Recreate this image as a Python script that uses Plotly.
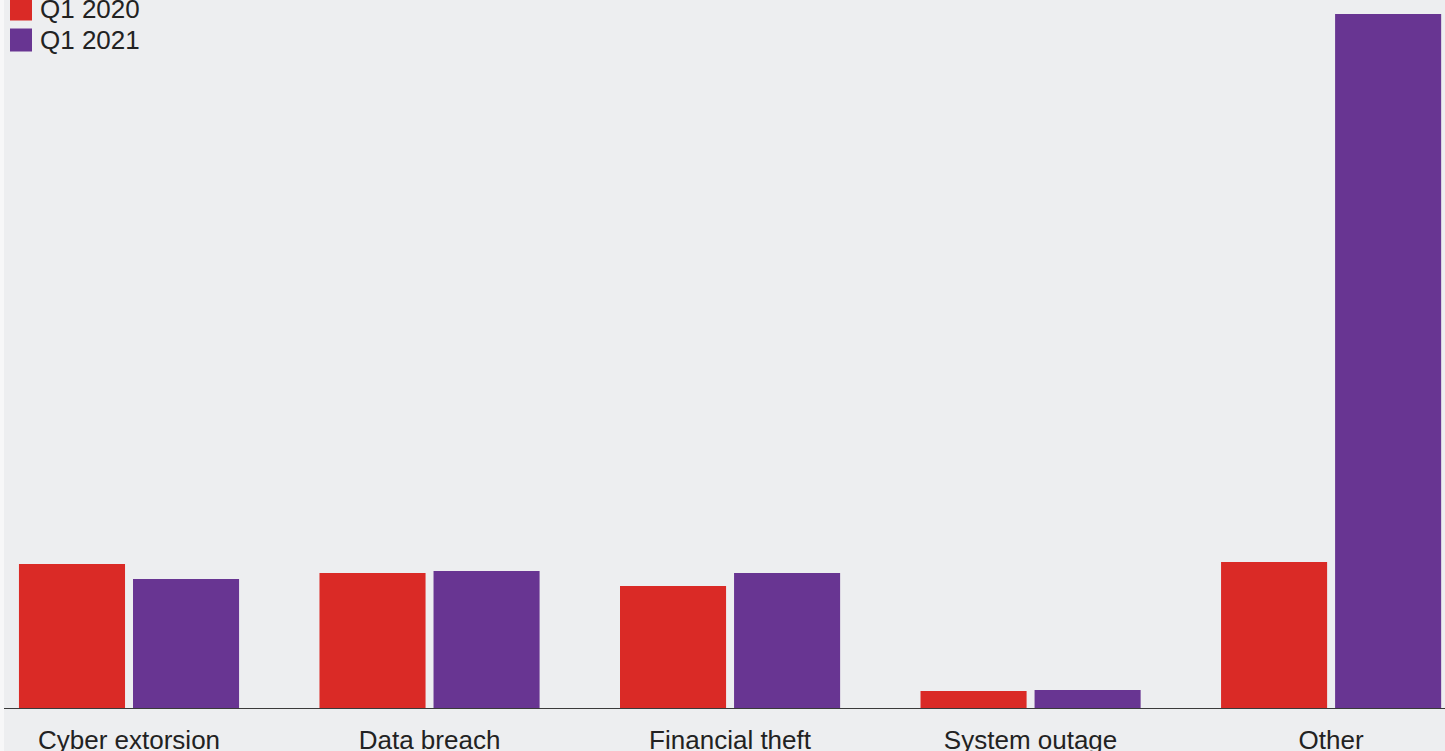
import plotly.graph_objects as go

categories = ["Cyber extorsion", "Data breach", "Financial theft", "System outage", "Other"]
series_names = ["Q1 2020", "Q1 2021"]
q1_2020 = [144, 135, 122, 17, 146]
q1_2021 = [129, 137, 135, 18, 694]
colors = ["#da2a26", "#683592"]

BG = "#edeef0"

fig = go.Figure()
for name, vals, col in zip(series_names, [q1_2020, q1_2021], colors):
    fig.add_trace(go.Bar(x=categories, y=vals, name=name, marker_color=col,
                         marker_line_width=0, showlegend=False))

# custom legend (large square swatches)
shapes = [dict(type="rect", xref="paper", yref="paper", x0=-0.1, x1=0, y0=-1, y1=2,
               fillcolor="#f7f7f8", line_width=0, layer="below")]
annotations = []
for i, (name, col) in enumerate(zip(series_names, colors)):
    yc = 9 + 31 * i  # px from top
    shapes.append(dict(type="rect", xref="paper", yref="paper",
                       x0=(10 - 4) / 1441, x1=(32 - 4) / 1441,
                       y0=1 - (yc + 11.5) / 708, y1=1 - (yc - 11.5) / 708,
                       fillcolor=col, line_width=0))
    annotations.append(dict(text=name, xref="paper", yref="paper",
                            x=(38 - 4) / 1441, y=1 - yc / 708, xanchor="left", yanchor="middle",
                            showarrow=False, font=dict(size=26, color="#222222",
                                                       family="Liberation Sans, Arial, sans-serif")))

fig.update_layout(
    width=1445, height=751,
    margin=dict(l=4, r=0, t=0, b=43, pad=0, autoexpand=False),
    paper_bgcolor=BG, plot_bgcolor=BG,
    barmode="group", bargap=0.241, bargroupgap=0.07,
    font=dict(family="Liberation Sans, Arial, sans-serif", size=26, color="#222222"),
    shapes=shapes, annotations=annotations,
    xaxis=dict(type="category", range=[-0.416, 4.379], showline=True, linecolor="#3a3a3a",
               linewidth=1.2, showgrid=False, zeroline=False, ticks="outside", ticklen=9,
               automargin=False,
               tickcolor="rgba(0,0,0,0)", tickfont=dict(size=26, color="#222222")),
    yaxis=dict(range=[0, 708], visible=False, showgrid=False, zeroline=False, automargin=False),
)

fig.write_html("out.html", config={"displayModeBar": False},
               post_script="document.body.style.margin='0';document.body.style.overflow='hidden';")
